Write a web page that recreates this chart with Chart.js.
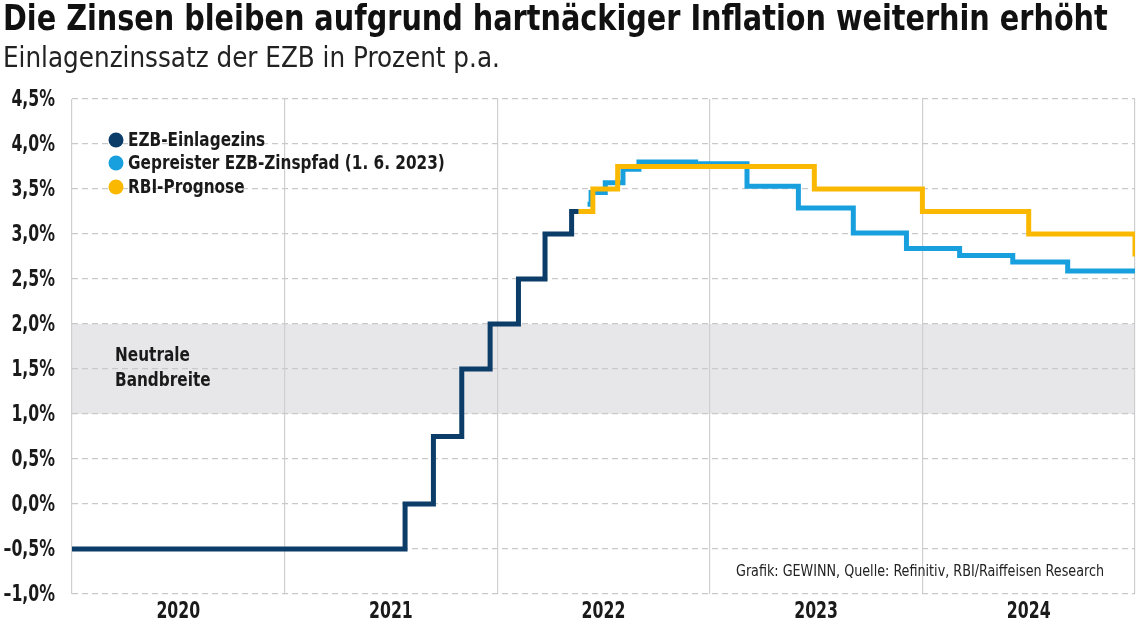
<!DOCTYPE html>
<html>
<head>
<meta charset="utf-8">
<script src="https://cdn.jsdelivr.net/npm/chart.js@4.4.0/dist/chart.umd.min.js"></script>
<style>
  html, body { margin: 0; padding: 0; background: #fff; }
  #wrap { position: relative; width: 1140px; height: 626px; overflow: hidden; }
  .head { position: absolute; left: 3px; white-space: nowrap; transform-origin: 0 0; font-family: "DejaVu Sans Condensed", "Liberation Sans Narrow", sans-serif; }
  #title { top: -2px; font-size: 35px; font-weight: bold; color: #111; }
  #subtitle { top: 41px; font-size: 28px; color: #222; }
  canvas { position: absolute; left: 0; top: 0; }
</style>
</head>
<body>
<div id="wrap">
  <canvas id="myChart" width="1140" height="626"></canvas>
  <div id="title" class="head">Die Zinsen bleiben aufgrund hartnäckiger Inflation weiterhin erhöht</div>
  <div id="subtitle" class="head">Einlagenzinssatz der EZB in Prozent p.a.</div>
</div>
<script>
// x = Monate ab linkem Rand (12 pro Jahresfeld)
var years = ['2020', '2021', '2022', '2023', '2024'];

var ezbX = [0, 18.8, 20.4, 22.0, 23.6, 25.2, 26.7, 28.2, 28.6];
var ezbY = [-0.5, 0, 0.75, 1.5, 2.0, 2.5, 3.0, 3.25, 3.25];

var pfadX = [29.1, 29.3, 30.1, 31.1, 32.0, 35.2, 38.1, 41.0, 44.1, 47.1, 50.1, 53.1, 56.2, 60];
var pfadY = [3.33, 3.46, 3.57, 3.72, 3.80, 3.78, 3.53, 3.29, 3.01, 2.84, 2.76, 2.69, 2.59, 2.59];

var rbiX = [28.6, 29.4, 30.8, 41.9, 48.0, 54.0, 60];
var rbiY = [3.25, 3.5, 3.75, 3.5, 3.25, 3.0, 2.75];

var bandLow = 1.0, bandHigh = 2.0;

var labels = ['EZB-Einlagezins', 'Gepreister EZB-Zinspfad (1. 6. 2023)', 'RBI-Prognose'];
var colors = ['#0c3d68', '#18a0de', '#fbb800'];

function pts(xs, ys) {
    return xs.map(function(x, i) { return { x: x, y: ys[i] }; });
}

// Überschriften auf Breite bringen
function fitHead(id, w) {
    var el = document.getElementById(id);
    el.style.transform = 'scaleX(' + (w / el.scrollWidth) + ')';
}
fitHead('title', 1105);
fitHead('subtitle', 497);

var cond = '"DejaVu Sans Condensed", "Liberation Sans Narrow", sans-serif';

// schmal gezogener Text
function narrowText(ctx, txt, x, y, sx, align) {
    ctx.save();
    var w = ctx.measureText(txt).width * sx;
    var x0 = align === 'right' ? x - w : (align === 'center' ? x - w / 2 : x);
    ctx.translate(x0, y);
    ctx.scale(sx, 1);
    ctx.textAlign = 'left';
    ctx.fillText(txt, 0, 0);
    ctx.restore();
}

var extras = {
    id: 'extras',
    beforeDraw: function(chart) {
        var ctx = chart.ctx, a = chart.chartArea, y = chart.scales.y;
        ctx.save();
        ctx.fillStyle = '#e7e7e9';
        ctx.fillRect(a.left, y.getPixelForValue(bandHigh), a.right - a.left,
            y.getPixelForValue(bandLow) - y.getPixelForValue(bandHigh));
        ctx.restore();
    },
    afterDraw: function(chart) {
        var ctx = chart.ctx, xs = chart.scales.x, ys = chart.scales.y;
        ctx.save();
        ctx.textBaseline = 'middle';
        ctx.fillStyle = '#1a1a1a';

        // Achsenbeschriftung y
        ctx.font = 'bold 23px ' + cond;
        ys.ticks.forEach(function(t) {
            var s = t.value.toFixed(1).replace('.', ',').replace('-', '–') + '%';
            narrowText(ctx, s, 55, ys.getPixelForValue(t.value) + 1, 0.76, 'right');
        });
        // Achsenbeschriftung x
        xs.ticks.forEach(function(t) {
            if (t.value % 12 === 6) {
                narrowText(ctx, years[(t.value - 6) / 12], xs.getPixelForValue(t.value), 612, 0.76, 'center');
            }
        });

        // Legende
        var ly = [140, 163, 187];
        ctx.font = 'bold 20px ' + cond;
        for (var i = 0; i < labels.length; i++) {
            ctx.fillStyle = colors[i];
            ctx.beginPath();
            ctx.arc(116, ly[i], 7.5, 0, Math.PI * 2);
            ctx.fill();
            ctx.fillStyle = '#1a1a1a';
            narrowText(ctx, labels[i], 128, ly[i] + 1, 0.85, 'left');
        }
        // Neutrale Bandbreite
        narrowText(ctx, 'Neutrale', 115, 356, 0.85, 'left');
        narrowText(ctx, 'Bandbreite', 115, 381, 0.85, 'left');
        // Quelle
        ctx.font = '16px ' + cond;
        ctx.fillStyle = '#222';
        var src = 'Grafik: GEWINN, Quelle: Refinitiv, RBI/Raiffeisen Research';
        narrowText(ctx, src, 736, 572, 368 / ctx.measureText(src).width, 'left');
        ctx.restore();
    }
};

var ctx = document.getElementById('myChart').getContext('2d');
var chart = new Chart(ctx, {
    type: 'line',
    data: {
        datasets: [{
            label: labels[0],
            data: pts(ezbX, ezbY),
            borderColor: colors[0],
            order: 1
        }, {
            label: labels[1],
            data: pts(pfadX, pfadY),
            borderColor: colors[1],
            order: 2
        }, {
            label: labels[2],
            data: pts(rbiX, rbiY),
            borderColor: colors[2],
            order: 0
        }]
    },
    options: {
        responsive: false,
        animation: false,
        layout: { padding: { top: 99, right: 5, left: 0, bottom: 0 } },
        elements: {
            line: { stepped: true, borderWidth: 5, borderCapStyle: 'butt', borderJoinStyle: 'miter', fill: false },
            point: { radius: 0 }
        },
        plugins: {
            legend: { display: false },
            tooltip: { enabled: false }
        },
        scales: {
            x: {
                type: 'linear',
                min: 0,
                max: 60,
                afterFit: function(s) { s.height = 32; },
                border: { display: false },
                grid: {
                    drawTicks: false,
                    lineWidth: 1.2,
                    color: function(c) { return c.tick && c.tick.value % 12 === 0 ? '#cfcfcf' : 'rgba(0,0,0,0)'; }
                },
                ticks: {
                    stepSize: 6,
                    autoSkip: false,
                    maxRotation: 0,
                    display: false
                }
            },
            y: {
                min: -1,
                max: 4.5,
                afterFit: function(s) { s.width = 72; },
                border: { display: false, dash: [6, 4] },
                grid: { drawTicks: false, color: '#c9c9c9', lineWidth: 1.2 },
                ticks: { stepSize: 0.5, display: false }
            }
        }
    },
    plugins: [extras]
});
</script>
</body>
</html>
